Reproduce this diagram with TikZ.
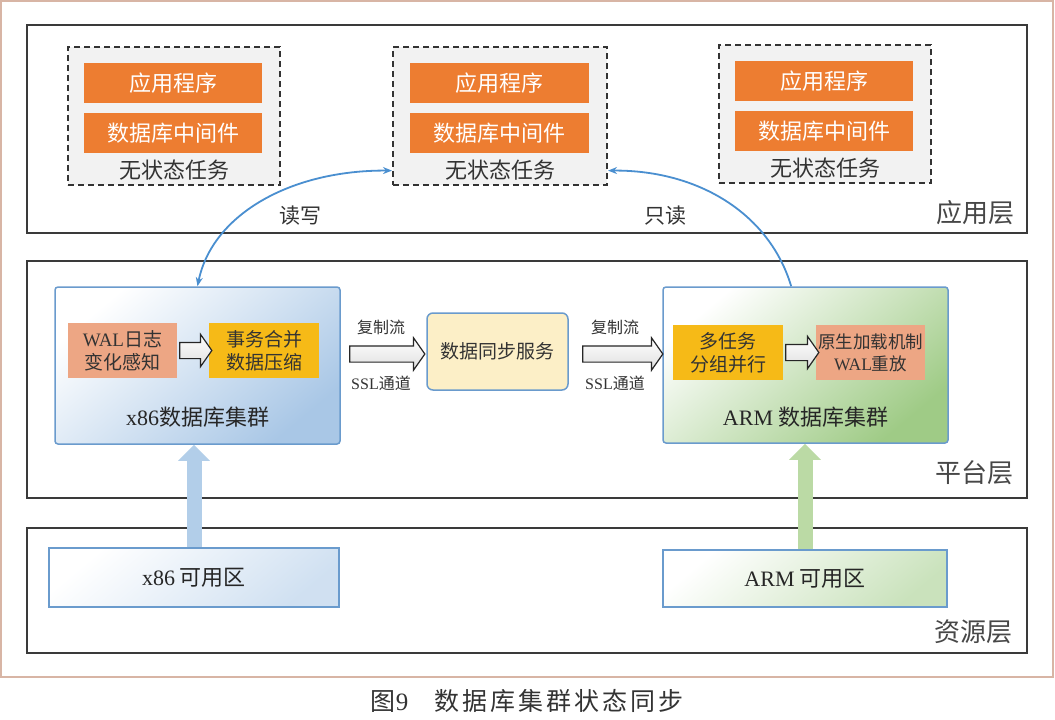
\documentclass[tikz,border=0pt]{standalone}
\usepackage{fontspec}
\setmainfont{Noto Sans CJK SC}
\newfontfamily\latf{Liberation Serif}
\newfontfamily\capf[LetterSpace=12]{Noto Sans CJK SC}
\usetikzlibrary{shapes.arrows,arrows.meta,calc}
\definecolor{orng}{HTML}{ED7D31}
\definecolor{salmon}{HTML}{EDA684}
\definecolor{gold}{HTML}{F6BA17}
\definecolor{dashgray}{HTML}{F2F2F2}
\definecolor{bordr}{HTML}{D8B5A5}
\definecolor{layer}{HTML}{3A3A3A}
\definecolor{txt}{HTML}{333333}
\definecolor{lnblue}{HTML}{4A8FD0}
\definecolor{boxblue}{HTML}{6A9BCD}
\definecolor{shblue}{HTML}{A9C7E6}
\definecolor{shgreen}{HTML}{9FCB86}
\definecolor{syncfill}{HTML}{FCEFC7}
\definecolor{upblue}{HTML}{B2CEE9}
\definecolor{upgreen}{HTML}{BBDAA5}
\tikzset{
  layerbox/.style={draw=layer, line width=2pt, fill=white, minimum width=1000pt, inner sep=0pt},
  layerlabel/.style={text=txt!90, font=\fontsize{26}{30}\selectfont, anchor=east, inner sep=0pt},
  taskbox/.style={draw=black!80, dashed, dash pattern=on 6pt off 4pt, line width=2pt, fill=dashgray, minimum width=212pt, minimum height=138pt, inner sep=0pt},
  orangebox/.style={fill=orng, text=white, minimum width=178pt, minimum height=40pt, inner sep=0pt, font=\fontsize{22}{26}\selectfont},
  tasklabel/.style={text=txt, font=\fontsize{22}{26}\selectfont, inner sep=0pt},
  cluster/.style={draw=boxblue, line width=1.5pt, rounded corners=3pt, minimum width=285pt, minimum height=157pt, inner sep=0pt},
  inner/.style={minimum width=110pt, minimum height=55pt, inner sep=0pt, align=center, text=txt, font=\fontsize{19}{23}\selectfont},
  hollow/.style={single arrow, draw=black!85, line width=1.2pt, top color=white, bottom color=gray!25, inner xsep=0pt, inner ysep=7.5pt, single arrow head extend=8pt, single arrow tip angle=110},
  flowlabel/.style={text=txt, font=\fontsize{16}{19}\selectfont, inner sep=0pt},
  clabel/.style={text=black!85, font=\fontsize{22}{26}\selectfont, inner sep=0pt},
  zone/.style={draw=boxblue, line width=1.5pt, minimum width=290pt, minimum height=59pt, inner sep=0pt, font=\fontsize{22}{26}\selectfont, text=black!85},
  blink/.style={draw=lnblue, line width=1.8pt},
  uparrow/.style={line width=15pt, -{Triangle[width=31pt,length=16pt]}}
}
\begin{document}
\begin{tikzpicture}[x=1pt,y=-1pt]
\useasboundingbox (0,0) rectangle (1055,720);
% outer border
\node[draw=bordr, line width=1.5pt, minimum width=1052pt, minimum height=676pt, inner sep=0pt] (frame) at (527,339) {};
% layers
\node[layerbox, minimum height=208pt] (app) at (527,129) {};
\node[layerbox, minimum height=237pt] (plat) at (527,379.5) {};
\node[layerbox, minimum height=125pt] (res) at (527,590.5) {};
\node[layerlabel] (appl) at (1015,213) {应用层};
\node[layerlabel] (platl) at (1014,473) {平台层};
\node[layerlabel] (resl) at (1013,632) {资源层};
% task boxes
\node[taskbox] (tL) at (174,116) {};
\node[taskbox, minimum width=214pt] (tM) at (500,116) {};
\node[taskbox] (tR) at (825,114) {};
\node[orangebox] (aL) at (173,83) {应用程序};
\node[orangebox] (dL) at (173,133) {数据库中间件};
\node[tasklabel] (sL) at (174,170) {无状态任务};
\node[orangebox, minimum width=179pt] (aM) at (499.5,83) {应用程序};
\node[orangebox, minimum width=179pt] (dM) at (499.5,133) {数据库中间件};
\node[tasklabel] (sM) at (500,170) {无状态任务};
\node[orangebox] (aR) at (824,81) {应用程序};
\node[orangebox] (dR) at (824,131) {数据库中间件};
\node[tasklabel] (sR) at (825,168) {无状态任务};
% clusters
\node[cluster, top color=white, bottom color=shblue, shading angle=40] (x86db) at (197.5,365.5) {};
\node[inner, fill=salmon, minimum width=109pt] (wal) at (122.5,350.5) {{\latf WAL}日志\\变化感知};
\node[inner, fill=gold] (merge) at (264,350.5) {事务合并\\数据压缩};
\node[hollow, minimum height=32pt] (ar1) at ($(wal.east)!0.5!(merge.west)$) {};
\node[clabel] (x86l) at (197.5,417) {{\latf x86}数据库集群};

\node[cluster, minimum height=156pt, top color=white, bottom color=shgreen, shading angle=40] (armdb) at (805.5,365) {};
\node[inner, fill=gold] (multi) at (728,352.5) {多任务\\分组并行};
\node[inner, fill=salmon, minimum width=109pt, font=\fontsize{17.5}{22}\selectfont] (replay) at (870.5,352.5) {原生加载机制\\{\latf WAL}重放};
\node[hollow, minimum height=33pt] (ar4) at ($(multi.east)!0.5!(replay.west)$) {};
\node[clabel] (arml) at (805.5,417) {{\latf ARM} 数据库集群};

% sync
\node[draw=boxblue, line width=1.5pt, rounded corners=6pt, fill=syncfill, minimum width=141pt, minimum height=77pt, inner sep=0pt, text=txt, font=\fontsize{19}{23}\selectfont] (sync) at (497.5,351.5) {数据同步服务};
\node[hollow, minimum height=75pt] (ar2) at (384.5,354) {};
\node[hollow, minimum height=80pt] (ar3) at (620,354) {};
\node[flowlabel] (f1) at (381,327) {复制流};
\node[flowlabel] (s1) at (381,383) {{\latf SSL}通道};
\node[flowlabel] (f2) at (615,327) {复制流};
\node[flowlabel] (s2) at (615,383) {{\latf SSL}通道};

% zones
\node[zone, top color=white, bottom color=shblue!55, shading angle=40] (x86z) at (194,577.5) {{\latf x86} 可用区};
\node[zone, minimum width=284pt, minimum height=57pt, top color=white, bottom color=shgreen!55, shading angle=40] (armz) at (805,578.5) {{\latf ARM} 可用区};
\draw[uparrow, draw=upblue] (x86z.north) -- (x86z.north |- x86db.south);
\draw[uparrow, draw=upgreen] (armz.north) -- (armz.north |- armdb.south);

% blue links
\draw[blink, {Stealth[length=9pt,width=7pt]}-{Stealth[length=9pt,width=7pt]}]
  (x86db.north) .. controls (212,215) and (290,170) .. ($(tM.south west)!0.11!(tM.north west)$);
\draw[blink, -{Stealth[length=9pt,width=7pt]}]
  ($(armdb.north west)!0.45!(armdb.north east)$) .. controls (770,215) and (700,170) .. ($(tM.south east)!0.11!(tM.north east)$);
\node[text=txt, font=\fontsize{21}{25}\selectfont, inner sep=0pt] (rw) at (300,216) {读写};
\node[text=txt, font=\fontsize{21}{25}\selectfont, inner sep=0pt] (ro) at (665,216) {只读};

% caption
\node[text=txt, font=\fontsize{25}{30}\selectfont, inner sep=0pt] (cap) at (527,701) {{\capf 图}{\latf 9}\hspace{26pt}{\capf 数据库集群状态同步}};
\end{tikzpicture}
\end{document}
